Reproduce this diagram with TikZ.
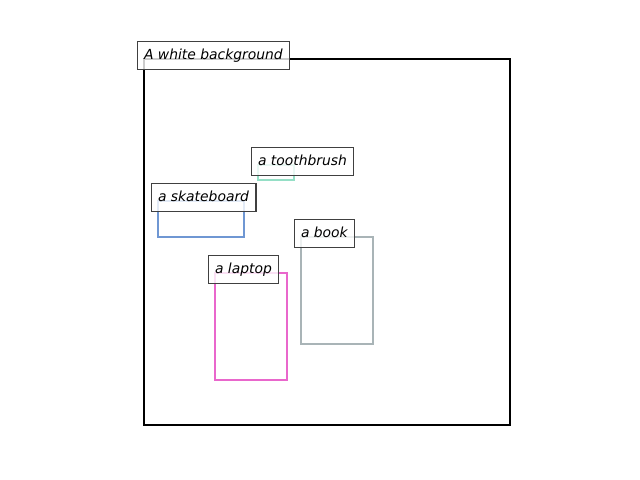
\documentclass[tikz,border=0pt]{standalone}
\usepackage{fontspec}
\setmainfont{DejaVu Sans}
\begin{document}
\begin{tikzpicture}[x=0.72pt,y=-0.72pt,
  bbox/.style={line width=1.5pt},
  lbl/.style={draw=black!75, line width=0.8pt, fill=white, fill opacity=0.8, text opacity=1,
    font=\fontsize{10pt}{12pt}\selectfont\itshape, inner xsep=5pt, inner ysep=5pt, outer sep=0pt,
    text height=7.5pt, text depth=2.5pt, anchor=base west, xshift=-5pt}]
\useasboundingbox (0,0) rectangle (640,480);
\definecolor{cTooth}{HTML}{95DFC6}
\definecolor{cSkate}{HTML}{6F97D3}
\definecolor{cBook}{HTML}{A9B4B7}
\definecolor{cLap}{HTML}{E967CC}
\draw[bbox, black] (144,59) rectangle (510,425);
\draw[bbox, cTooth] (258,165) rectangle (294,180);
\draw[bbox, cSkate] (158,201) rectangle (244,237);
\draw[bbox, cBook] (301,237) rectangle (373,344);
\draw[bbox, cLap] (215,273) rectangle (287,380);
\node[lbl] (bg) at (144,59) {A white background};
\node[lbl] (tooth) at (258,165) {a toothbrush};
\node[lbl] (skate) at (158,201) {a skateboard};
\node[lbl] (book) at (301,237) {a book};
\node[lbl] (lap) at (215,273) {a laptop};
\end{tikzpicture}
\end{document}
